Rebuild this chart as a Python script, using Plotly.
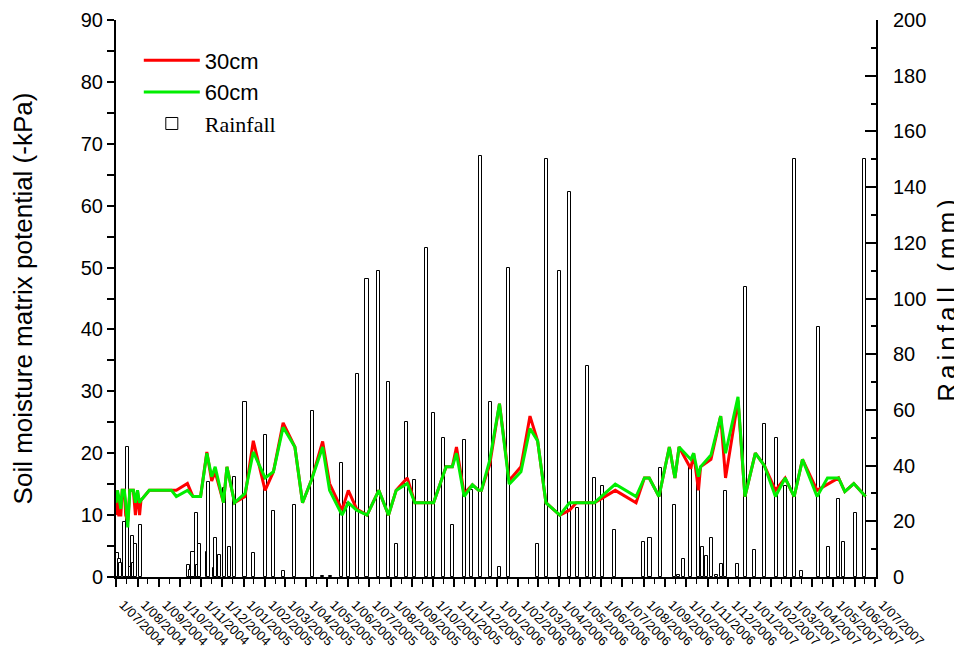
import plotly.graph_objects as go

# ---- Soil moisture (left axis, -kPa) ----
line_dates = [
    "2004-07-01", "2004-07-03", "2004-07-05", "2004-07-08", "2004-07-10", "2004-07-13",
    "2004-07-15", "2004-07-18", "2004-07-21", "2004-07-26", "2004-07-29", "2004-08-01",
    "2004-08-04", "2004-08-06", "2004-08-18", "2004-09-19", "2004-09-26", "2004-10-12",
    "2004-10-20", "2004-10-31", "2004-11-09", "2004-11-16", "2004-11-21", "2004-12-03",
    "2004-12-08", "2004-12-19", "2005-01-03", "2005-01-15", "2005-02-01", "2005-02-13",
    "2005-02-27", "2005-03-16", "2005-03-27", "2005-04-09", "2005-04-25", "2005-05-05",
    "2005-05-23", "2005-06-01", "2005-06-13", "2005-06-28", "2005-07-15", "2005-07-29",
    "2005-08-09", "2005-08-25", "2005-09-05", "2005-10-02", "2005-10-20", "2005-10-29",
    "2005-11-04", "2005-11-15", "2005-11-27", "2005-12-06", "2005-12-10", "2005-12-22",
    "2006-01-05", "2006-01-19", "2006-02-05", "2006-02-18", "2006-03-01", "2006-03-13",
    "2006-04-02", "2006-04-16", "2006-04-26", "2006-05-22", "2006-06-21", "2006-07-21",
    "2006-08-02", "2006-08-09", "2006-08-23", "2006-09-07", "2006-09-15", "2006-09-21",
    "2006-10-08", "2006-10-12", "2006-10-19", "2006-10-22", "2006-11-06", "2006-11-20",
    "2006-11-27", "2006-12-15", "2006-12-25", "2007-01-09", "2007-01-22", "2007-02-07",
    "2007-02-21", "2007-03-06", "2007-03-18", "2007-04-08", "2007-04-23", "2007-05-09",
    "2007-05-18", "2007-05-31", "2007-06-17",
]
moist_30cm = [
    10, 14, 10, 10, 14, 14, 10, 9, 14, 14, 10, 14,
    10, 12.4, 14, 14, 14, 15.1, 13, 13, 20.2, 15.5, 17, 12,
    17.8, 12, 13, 22, 14, 17, 24.9, 21, 12, 15.7, 21.9, 15.1,
    10.8, 14, 11, 10, 14, 10, 14, 16, 12, 12, 17.8, 17.8,
    21, 13.5, 14.9, 14, 14, 18.2, 28, 15.6, 17.8, 26, 22, 12,
    10, 10.8, 12, 12, 14, 12, 16, 16, 13, 21, 16, 21,
    17.5, 20, 14, 17.8, 19, 26, 16, 28.5, 13, 20, 18, 14,
    16, 13, 19, 14, 15, 16, 13.8, 15.1, 13,
]
moist_60cm = [
    12, 14, 13, 11, 14, 14, 12, 8, 14, 14, 12, 14,
    12, 12.4, 14, 14, 13, 14, 13, 13, 20, 16.2, 17.8, 12,
    17.8, 12, 13.5, 20.2, 16, 17, 24.2, 21, 12, 15.7, 21, 14,
    10, 12, 10.8, 10, 14, 10, 14, 15.1, 12, 12, 17.8, 17.8,
    20, 13, 14.9, 14, 14, 18.9, 28, 15, 17, 24, 22, 12,
    10, 12, 12, 12, 15, 13, 16, 16, 13, 21, 16, 21,
    19, 20, 16.2, 17.8, 19.7, 26, 20, 29.1, 13, 20, 18, 13,
    16, 13, 19, 13, 16, 16, 13.8, 15.1, 13,
]

# ---- Rainfall (right axis, mm) ----
rain_dates = [
    "2004-07-03", "2004-07-06", "2004-07-08", "2004-07-14", "2004-07-17", "2004-07-22",
    "2004-07-25", "2004-07-27", "2004-07-29", "2004-08-05", "2004-10-14", "2004-10-17",
    "2004-10-20", "2004-10-25", "2004-10-27", "2004-10-30", "2004-11-10", "2004-11-11",
    "2004-11-20", "2004-11-21", "2004-11-27", "2004-12-04", "2004-12-12", "2004-12-19",
    "2005-01-03", "2005-01-15", "2005-02-01", "2005-02-13", "2005-02-27", "2005-03-15",
    "2005-04-11", "2005-04-25", "2005-05-06", "2005-05-22", "2005-06-01", "2005-06-14",
    "2005-06-28", "2005-07-15", "2005-07-29", "2005-08-09", "2005-08-24", "2005-09-05",
    "2005-09-22", "2005-10-02", "2005-10-16", "2005-10-29", "2005-11-15", "2005-11-26",
    "2005-12-09", "2005-12-23", "2006-01-05", "2006-01-18", "2006-03-01", "2006-03-14",
    "2006-04-02", "2006-04-16", "2006-04-28", "2006-05-12", "2006-05-22", "2006-06-03",
    "2006-06-20", "2006-08-01", "2006-08-10", "2006-08-25", "2006-09-14", "2006-09-20",
    "2006-09-27", "2006-10-07", "2006-10-19", "2006-10-25", "2006-10-30", "2006-11-07",
    "2006-11-14", "2006-11-21", "2006-11-27", "2006-12-14", "2006-12-26", "2007-01-08",
    "2007-01-22", "2007-02-08", "2007-02-21", "2007-03-06", "2007-03-17", "2007-04-10",
    "2007-04-24", "2007-05-09", "2007-05-16", "2007-06-03", "2007-06-16",
]
rainfall_mm = [
    8.5, 6.5, 4.9, 19.9, 46.8, 3.7,
    14.7, 4.9, 11.8, 18.7, 4.3, 2.4,
    9.1, 22.9, 4.3, 11.8, 9.1, 34.2,
    3.2, 13.9, 7.9, 31.8, 10.7, 35.8,
    62.7, 8.7, 50.9, 23.8, 2.3, 25.8,
    59.7, 0.4, 0.4, 40.8, 26.7, 72.9,
    106.9, 109.9, 69.9, 11.7, 55.8, 34.8,
    118.0, 59.0, 50.0, 18.7, 49.2, 31.2,
    151.2, 62.8, 3.7, 111.1, 11.7, 150.1,
    109.9, 138.1, 24.7, 75.9, 35.7, 32.7,
    16.9, 12.7, 13.9, 39.0, 25.7, 0.7,
    6.3, 39.6, 35.8, 10.6, 7.5, 13.9,
    0.8, 4.7, 30.9, 4.7, 104.0, 9.7,
    54.8, 50.0, 32.7, 150.1, 2.2, 89.9,
    10.6, 27.9, 12.7, 22.9, 150.1,
]

DAY_MS = 86400000
FONT = "Liberation Sans, Arial, sans-serif"

fig = go.Figure()

fig.add_trace(go.Bar(
    x=rain_dates, y=rainfall_mm, yaxis="y",
    name='<span style="font-family:Liberation Serif, Times New Roman, serif">Rainfall</span>',
    width=4.5 * DAY_MS,
    marker=dict(color="white", line=dict(color="black", width=1)),
    legendrank=3,
))
fig.add_trace(go.Scatter(
    x=line_dates, y=moist_30cm, yaxis="y2", mode="lines", name="30cm",
    line=dict(color="#ff0000", width=3), legendrank=1,
))
fig.add_trace(go.Scatter(
    x=line_dates, y=moist_60cm, yaxis="y2", mode="lines", name="60cm",
    line=dict(color="#00ee00", width=3), legendrank=2,
))

# page body has an 8px default margin, so the figure is sized 8px smaller
fig.update_layout(
    width=954, height=645,
    margin=dict(l=108, r=86, t=12, b=76, autoexpand=False),
    paper_bgcolor="white", plot_bgcolor="white",
    font=dict(family=FONT, color="black"),
    showlegend=True,
    legend=dict(
        x=0.03, y=0.965, xanchor="left", yanchor="top",
        bgcolor="rgba(0,0,0,0)", font=dict(size=22, family=FONT),
        tracegroupgap=2, itemwidth=56,
    ),
    bargap=0,
    xaxis=dict(
        type="date", range=["2004-07-01", "2007-07-02"], automargin=False,
        showgrid=False, zeroline=False,
        showline=True, linecolor="black", linewidth=2,
        ticks="outside", ticklen=8, tickwidth=1.5, tickcolor="black",
        tick0="2004-07-01", dtick="M1", tickformat="1/%m/%Y",
        tickangle=45, tickfont=dict(size=13, family=FONT),
        ticklabelstandoff=5, ticklabelshift=7,
        minor=dict(ticks="outside", ticklen=5, tickwidth=1, tickcolor="black",
                   tick0="2004-07-16", dtick="M1"),
    ),
    yaxis=dict(
        side="right", range=[0, 200], automargin=False,
        showgrid=False, zeroline=False,
        showline=True, linecolor="black", linewidth=2,
        ticks="inside", ticklen=11, tickwidth=1.5, tickcolor="black",
        dtick=20, tickfont=dict(size=20, family=FONT), ticklabelstandoff=11,
        minor=dict(ticks="inside", ticklen=5, tickwidth=1.5, tickcolor="black", dtick=10),
        title=dict(text='<span style="letter-spacing:4px">Rainfall (mm)</span>',
                   font=dict(size=26, family=FONT), standoff=13),
    ),
    yaxis2=dict(
        side="left", overlaying="y", range=[0, 90], automargin=False,
        showgrid=False, zeroline=False,
        showline=True, linecolor="black", linewidth=2,
        ticks="outside", ticklen=7, tickwidth=1.5, tickcolor="black",
        dtick=10, tickfont=dict(size=20, family=FONT),
        minor=dict(ticks="outside", ticklen=7, tickwidth=1.5, tickcolor="black", dtick=5),
        title=dict(text="Soil moisture matrix potential (-kPa)",
                   font=dict(size=26, family=FONT), standoff=46),
    ),
)

fig.write_html("out.html")
